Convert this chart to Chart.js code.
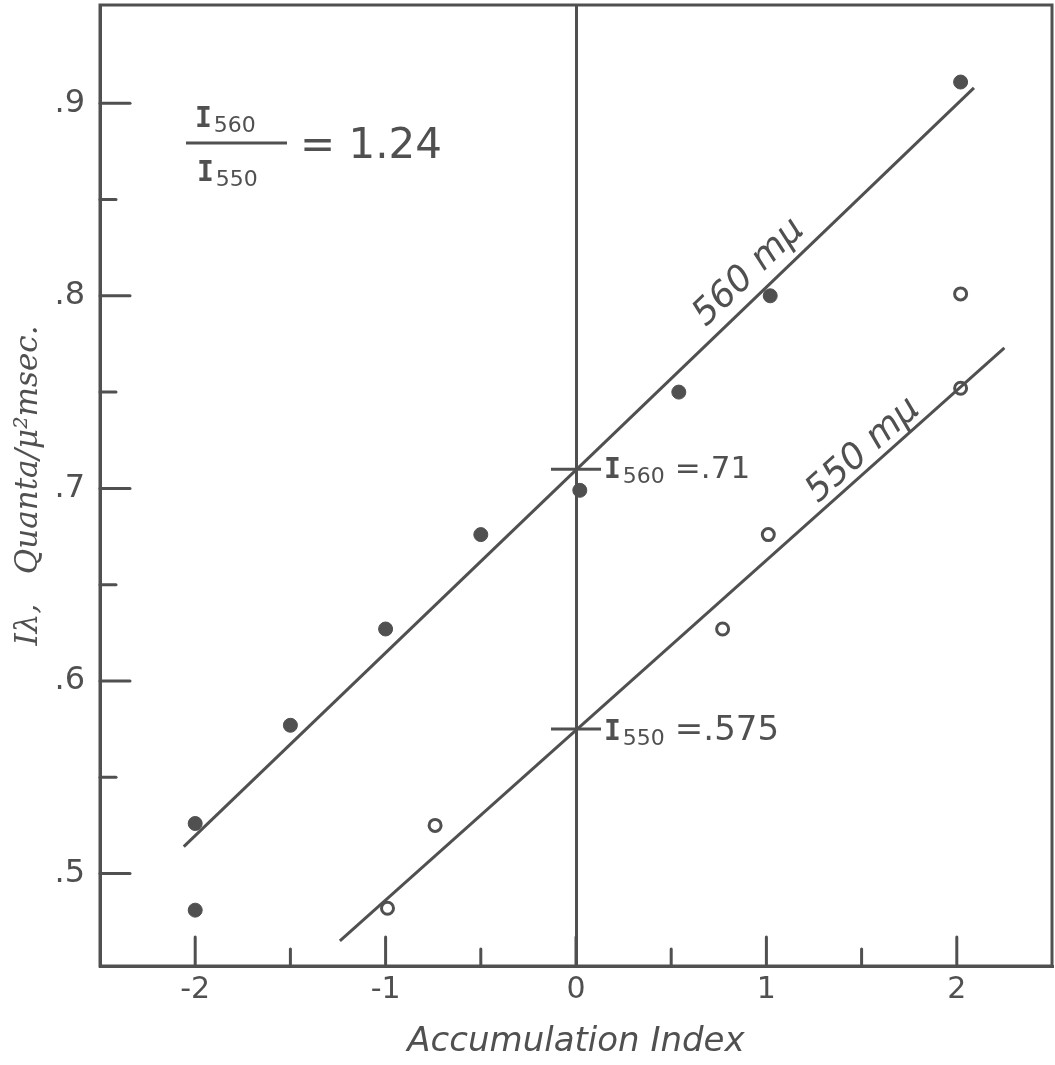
<!DOCTYPE html>
<html>
<head>
<meta charset="utf-8">
<script src="https://cdn.jsdelivr.net/npm/chart.js@4.4.1/dist/chart.umd.min.js"></script>
<style>
  html, body { margin: 0; padding: 0; background: #fff; }
  #wrap { width: 1055px; height: 1065px; }
</style>
</head>
<body>
<div id="wrap"><canvas id="chart" width="1055" height="1065"></canvas></div>
<script>
// measured points, 560 mu (filled) and 550 mu (open)
const x560 = [-2, -2, -1.5, -1, -0.5, 0.02, 0.54, 1.02, 2.02];
const y560 = [0.526, 0.481, 0.577, 0.627, 0.676, 0.699, 0.750, 0.800, 0.911];
const x550 = [-0.99, -0.74, 0.77, 1.01, 2.02, 2.02];
const y550 = [0.482, 0.525, 0.627, 0.676, 0.752, 0.801];

// fitted lines (end points)
const fit560x = [-2.06, 2.09];
const fit560y = [0.514, 0.908];
const fit550x = [-1.24, 2.25];
const fit550y = [0.465, 0.773];

// intercepts at accumulation index 0
const interceptX = [0, 0];
const interceptY = [0.71, 0.575];

const xTicks = [-2, -1, 0, 1, 2];
const xMinor = [-1.5, -0.5, 0.5, 1.5];
const yTicks = [0.5, 0.6, 0.7, 0.8, 0.9];
const yMinor = [0.55, 0.65, 0.75, 0.85];

const ink = '#505050';
const pts = (xs, ys) => xs.map((x, i) => ({ x: x, y: ys[i] }));

// tick marks pointing into the plot, top/right frame
const framePlugin = {
  id: 'frame',
  beforeDatasetsDraw(chart) {
    const { ctx, chartArea: a, scales } = chart;
    ctx.save();
    ctx.strokeStyle = ink;
    ctx.lineWidth = 3;
    ctx.lineCap = 'round';
    ctx.strokeRect(a.left, a.top, a.right - a.left, a.bottom - a.top);
    const tick = (len, vals, horiz) => vals.forEach(v => {
      ctx.beginPath();
      if (horiz) {
        const px = scales.x.getPixelForValue(v);
        ctx.moveTo(px, a.bottom); ctx.lineTo(px, a.bottom - len);
      } else {
        const py = scales.y.getPixelForValue(v);
        ctx.moveTo(a.left, py); ctx.lineTo(a.left + len, py);
      }
      ctx.stroke();
    });
    tick(29, xTicks, true);
    tick(17, xMinor, true);
    tick(30, yTicks, false);
    tick(16, yMinor, false);
    ctx.restore();
  }
};

function subLabel(ctx, x, y, sub, rest, restSize) {
  ctx.font = 'bold 28px "DejaVu Sans Mono"';
  ctx.fillText('I', x, y);
  let w = ctx.measureText('I').width;
  ctx.font = '22px "DejaVu Sans"';
  ctx.fillText(sub, x + w + 2, y + 5);
  w += 2 + ctx.measureText(sub).width;
  if (rest) {
    ctx.font = restSize + 'px "DejaVu Sans"';
    ctx.fillText(rest, x + w + 10, y);
  }
}

const notePlugin = {
  id: 'notes',
  afterDatasetsDraw(chart) {
    const { ctx, scales } = chart;
    const X = v => scales.x.getPixelForValue(v);
    const Y = v => scales.y.getPixelForValue(v);
    ctx.save();
    ctx.fillStyle = ink;
    ctx.strokeStyle = ink;
    ctx.textBaseline = 'alphabetic';
    ctx.textAlign = 'left';

    // intercept labels
    subLabel(ctx, X(0) + 28, Y(0.71) + 9, '560', '=.71', 31);
    subLabel(ctx, X(0) + 28, Y(0.575) + 11, '550', '=.575', 34);

    // ratio in the upper left
    const fx = 186, fy = 143;
    ctx.lineWidth = 3;
    ctx.beginPath(); ctx.moveTo(fx, fy); ctx.lineTo(fx + 101, fy); ctx.stroke();
    subLabel(ctx, fx + 9, fy - 16, '560');
    subLabel(ctx, fx + 11, fy + 38, '550');
    ctx.font = '42px "DejaVu Sans"';
    ctx.fillText('= 1.24', fx + 114, fy + 15);

    // curve labels along the fitted lines
    const lineLabel = (txt, xs, ys, at, off) => {
      const x0 = X(xs[0]), y0 = Y(ys[0]), x1 = X(xs[1]), y1 = Y(ys[1]);
      const ang = Math.atan2(y1 - y0, x1 - x0);
      const px = x0 + (x1 - x0) * at, py = y0 + (y1 - y0) * at;
      ctx.save();
      ctx.translate(px, py);
      ctx.rotate(ang);
      ctx.font = 'italic 36px "DejaVu Sans"';
      ctx.textAlign = 'center';
      ctx.fillText(txt, 0, -off);
      ctx.restore();
    };
    lineLabel('560 m\u03bc', fit560x, fit560y, 0.735, 13);
    lineLabel('550 m\u03bc', fit550x, fit550y, 0.805, 8);
    ctx.restore();
  }
};

new Chart(document.getElementById('chart'), {
  type: 'scatter',
  data: {
    datasets: [
      {
        label: '560 fit', data: pts(fit560x, fit560y), showLine: true,
        borderColor: ink, borderWidth: 3, pointRadius: 0
      },
      {
        label: '550 fit', data: pts(fit550x, fit550y), showLine: true,
        borderColor: ink, borderWidth: 3, pointRadius: 0
      },
      {
        label: 'intercepts', data: pts(interceptX, interceptY),
        pointStyle: 'line', pointRadius: 25, borderColor: ink, borderWidth: 3
      },
      {
        label: '560 m\u03bc', data: pts(x560, y560),
        pointRadius: 7, backgroundColor: ink, borderColor: ink, borderWidth: 1
      },
      {
        label: '550 m\u03bc', data: pts(x550, y550),
        pointRadius: 6, backgroundColor: '#fff', borderColor: ink, borderWidth: 3
      }
    ]
  },
  options: {
    responsive: false,
    animation: false,
    layout: { autoPadding: false, padding: { top: 5, right: 3, left: 0, bottom: 0 } },
    plugins: { legend: { display: false }, tooltip: { enabled: false } },
    scales: {
      x: {
        type: 'linear', min: -2.5, max: 2.5,
        afterBuildTicks: s => { s.ticks = xTicks.map(v => ({ value: v })); },
        afterFit: s => { s.height = 99; s.paddingLeft = 0; s.paddingRight = 0; },
        grid: {
          drawTicks: false, lineWidth: 3,
          color: c => (c.tick && c.tick.value === 0 ? ink : 'rgba(0,0,0,0)')
        },
        border: { display: true, color: ink, width: 3 },
        ticks: {
          color: ink, padding: 6, maxRotation: 0,
          font: { family: '"DejaVu Sans"', size: 30 },
          callback: v => String(v)
        },
        title: {
          display: true, text: 'Accumulation Index', color: ink,
          font: { family: '"DejaVu Sans"', size: 34, style: 'italic' },
          padding: { top: 0, bottom: 2 }
        }
      },
      y: {
        type: 'linear', min: 0.452, max: 0.951,
        afterBuildTicks: s => { s.ticks = yTicks.map(v => ({ value: v })); },
        afterFit: s => { s.width = 100; s.paddingTop = 0; s.paddingBottom = 0; },
        grid: { display: false, drawTicks: false },
        border: { display: true, color: ink, width: 3 },
        ticks: {
          color: ink, padding: 15,
          font: { family: '"DejaVu Sans"', size: 32 },
          callback: v => '.' + Math.round(v * 10)
        },
        title: {
          display: true, text: 'I\u03bb,   Quanta/\u03bc\u00b2msec.', color: ink,
          font: { family: '"DejaVu Serif"', size: 31, style: 'italic' },
          padding: { top: 10, bottom: 0 }
        }
      }
    }
  },
  plugins: [framePlugin, notePlugin]
});
</script>
</body>
</html>
